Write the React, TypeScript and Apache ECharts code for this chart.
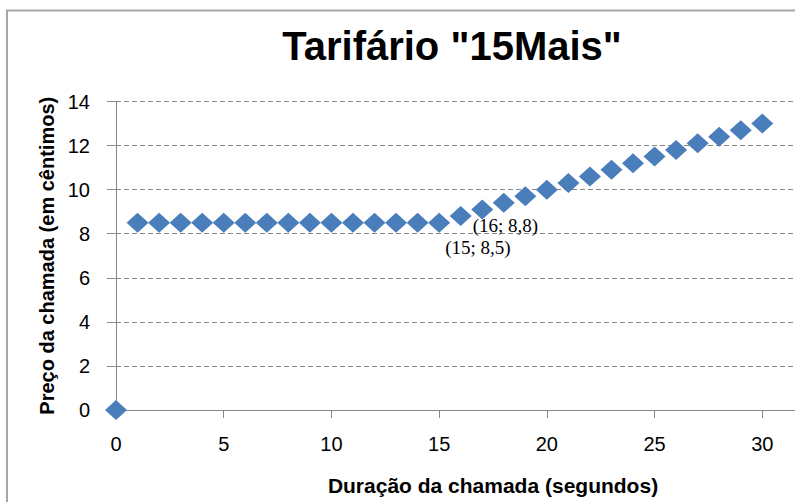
import React, { useEffect, useRef } from "react";
import * as echarts from "echarts";

const durations: number[] = Array.from({ length: 31 }, (_, i) => i);
const prices: number[] = [
  0, 8.5, 8.5, 8.5, 8.5, 8.5, 8.5, 8.5, 8.5, 8.5, 8.5, 8.5, 8.5, 8.5, 8.5, 8.5,
  8.8, 9.1, 9.4, 9.7, 10.0, 10.3, 10.6, 10.9, 11.2, 11.5, 11.8, 12.1, 12.4, 12.7, 13.0,
];
const labelledPoints: { index: number; text: string; pos: [number, number] }[] = [
  { index: 15, text: "(15; 8,5)", pos: [17, 35] },
  { index: 16, text: "(16; 8,8)", pos: [23, 19] },
];
const titleText = 'Tarifário "15Mais"';
const xTitle = "Duração da chamada (segundos)";
const yTitle = "Preço da chamada (em cêntimos)";

export default function App() {
  const ref = useRef<HTMLDivElement>(null);
  useEffect(() => {
    if (!ref.current) return;
    const chart = echarts.init(ref.current, null, { renderer: "svg" });
    const data = durations.map((d, i) => {
      const lp = labelledPoints.find((p) => p.index === i);
      if (!lp) return [d, prices[i]];
      return {
        value: [d, prices[i]],
        label: {
          show: true,
          formatter: lp.text,
          position: lp.pos,
          align: "left",
          verticalAlign: "middle",
          fontFamily: "Liberation Serif",
          fontSize: 19,
          color: "#000",
        },
      };
    });
    chart.setOption({
      animation: false,
      backgroundColor: "#fff",
      graphic: [
        {
          type: "rect",
          shape: { x: 7, y: 10.5, width: 1200, height: 800 },
          style: { fill: "none", stroke: "#a6a6a6", lineWidth: 2 },
          z: 100,
        },
        {
          type: "text",
          x: 452,
          y: 46,
          style: {
            text: titleText,
            font: "bold 40px 'Liberation Sans'",
            fill: "#000",
            textAlign: "center",
            textVerticalAlign: "middle",
          },
        },
      ],
      grid: { left: 116, right: 30, top: 101.5, bottom: 92, containLabel: false },
      xAxis: {
        type: "value",
        min: 0,
        max: 35,
        interval: 5,
        name: xTitle,
        nameLocation: "middle",
        nameGap: 65,
        nameTextStyle: { fontFamily: "Liberation Sans", fontWeight: "bold", fontSize: 21, color: "#000" },
        axisLine: { show: true, onZero: false, lineStyle: { color: "#868686", width: 1 } },
        axisTick: { show: true, length: 8, lineStyle: { color: "#868686" } },
        axisLabel: {
          fontFamily: "Liberation Sans",
          fontSize: 20,
          color: "#000",
          margin: 24,
          showMaxLabel: false,
          formatter: (v: number) => (v > 30 ? "" : String(v)),
        },
        splitLine: { show: false },
      },
      yAxis: {
        type: "value",
        min: 0,
        max: 14,
        interval: 2,
        name: yTitle,
        nameLocation: "middle",
        nameGap: 58,
        nameTextStyle: { fontFamily: "Liberation Sans", fontWeight: "bold", fontSize: 20, color: "#000" },
        axisLine: { show: true, lineStyle: { color: "#868686", width: 1 } },
        axisTick: { show: true, length: 9, lineStyle: { color: "#868686" } },
        axisLabel: { fontFamily: "Liberation Sans", fontSize: 20, color: "#000", margin: 26 },
        splitLine: { show: true, lineStyle: { color: "#868686", type: [5, 3], width: 1 } },
      },
      series: [
        {
          type: "scatter",
          data,
          symbol: "diamond",
          symbolSize: [22, 20],
          clip: false,
          itemStyle: { color: "#4a7ebb", opacity: 1 },
        },
      ],
    });
    return () => chart.dispose();
  }, []);
  return (
    <div style={{ position: "fixed", left: 0, top: 0, width: 795, height: 502, overflow: "hidden", background: "#fff" }}>
      <div ref={ref} style={{ width: 900, height: 502 }} />
    </div>
  );
}
